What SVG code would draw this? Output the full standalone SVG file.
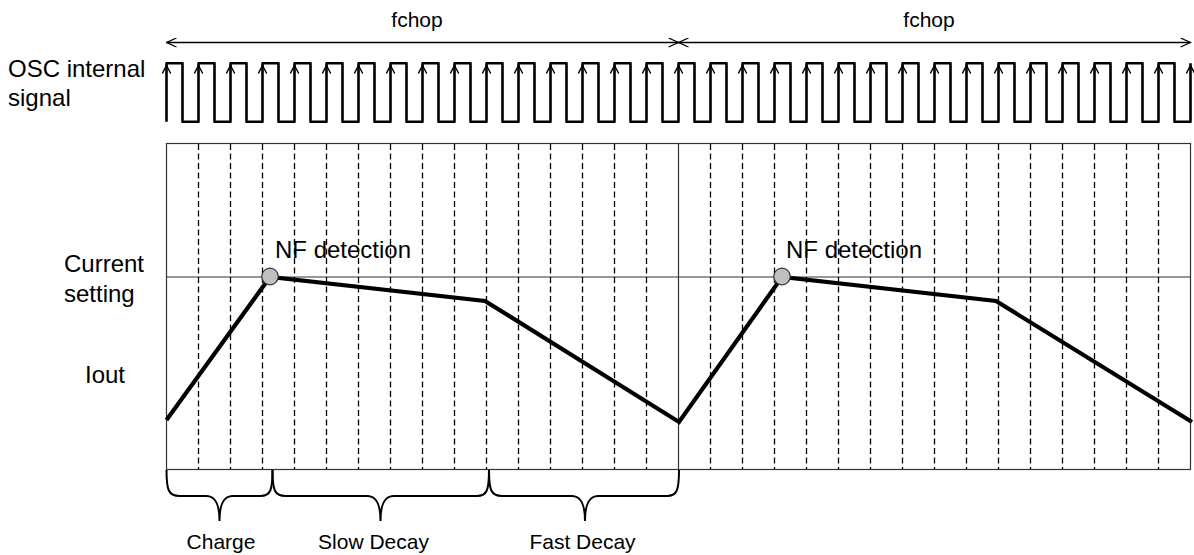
<svg xmlns="http://www.w3.org/2000/svg" width="1194" height="555" viewBox="0 0 1194 555">
<style>
.t{font-family:"Liberation Sans",Arial,sans-serif;fill:#000}
.lab{font-size:24px}
.sm{font-size:21px}
.grid{stroke:#333;stroke-width:1.2;fill:none}
.dash{stroke:#000;stroke-width:1.3;stroke-dasharray:6 3.5;fill:none}
.wave{stroke:#000;stroke-width:2.6;fill:none;stroke-linejoin:round}
.ah{stroke:#000;stroke-width:1.5;fill:none}
.iout{stroke:#000;stroke-width:4.2;fill:none;stroke-linejoin:miter}
.brace{stroke:#000;stroke-width:2;fill:none}
.dim{stroke:#000;stroke-width:1.3;fill:none}
</style>
<defs>
<marker id="oa" viewBox="0 0 12 10" refX="11" refY="5" markerWidth="12" markerHeight="10" markerUnits="userSpaceOnUse" orient="auto-start-reverse">
<path d="M1,0.5 L11,5 L1,9.5" fill="none" stroke="#000" stroke-width="1.3"/>
</marker>
<path id="chev" class="ah" d="M-4.2,73.5 L0,65.5 L4.2,73.5"/>
</defs>

<g id="labels">
<text class="t lab" x="8" y="77">OSC internal</text>
<text class="t lab" x="8" y="106">signal</text>
<text class="t lab" x="64" y="272">Current</text>
<text class="t lab" x="64" y="302">setting</text>
<text class="t lab" x="85" y="383">Iout</text>
</g>

<g id="fchop">
<line class="dim" x1="166.5" y1="42.5" x2="678.5" y2="42.5" marker-start="url(#oa)" marker-end="url(#oa)"/>
<line class="dim" x1="678.5" y1="42.5" x2="1190.5" y2="42.5" marker-start="url(#oa)" marker-end="url(#oa)"/>
<text class="t sm" x="417" y="27" text-anchor="middle">fchop</text>
<text class="t sm" x="929" y="27" text-anchor="middle">fchop</text>
</g>

<g id="osc-signal">
<path class="wave" d="M166.5,121.7 V63.3 H182.5 V121.7 H198.5 V63.3 H214.5 V121.7 H230.5 V63.3 H246.5 V121.7 H262.5 V63.3 H278.5 V121.7 H294.5 V63.3 H310.5 V121.7 H326.5 V63.3 H342.5 V121.7 H358.5 V63.3 H374.5 V121.7 H390.5 V63.3 H406.5 V121.7 H422.5 V63.3 H438.5 V121.7 H454.5 V63.3 H470.5 V121.7 H486.5 V63.3 H502.5 V121.7 H518.5 V63.3 H534.5 V121.7 H550.5 V63.3 H566.5 V121.7 H582.5 V63.3 H598.5 V121.7 H614.5 V63.3 H630.5 V121.7 H646.5 V63.3 H662.5 V121.7 H678.5 V63.3 H694.5 V121.7 H710.5 V63.3 H726.5 V121.7 H742.5 V63.3 H758.5 V121.7 H774.5 V63.3 H790.5 V121.7 H806.5 V63.3 H822.5 V121.7 H838.5 V63.3 H854.5 V121.7 H870.5 V63.3 H886.5 V121.7 H902.5 V63.3 H918.5 V121.7 H934.5 V63.3 H950.5 V121.7 H966.5 V63.3 H982.5 V121.7 H998.5 V63.3 H1014.5 V121.7 H1030.5 V63.3 H1046.5 V121.7 H1062.5 V63.3 H1078.5 V121.7 H1094.5 V63.3 H1110.5 V121.7 H1126.5 V63.3 H1142.5 V121.7 H1158.5 V63.3 H1174.5 V121.7 H1190.5 V63.3"/>
<use href="#chev" x="166.5"/><use href="#chev" x="198.5"/><use href="#chev" x="230.5"/><use href="#chev" x="262.5"/>
<use href="#chev" x="294.5"/><use href="#chev" x="326.5"/><use href="#chev" x="358.5"/><use href="#chev" x="390.5"/>
<use href="#chev" x="422.5"/><use href="#chev" x="454.5"/><use href="#chev" x="486.5"/><use href="#chev" x="518.5"/>
<use href="#chev" x="550.5"/><use href="#chev" x="582.5"/><use href="#chev" x="614.5"/><use href="#chev" x="646.5"/>
<use href="#chev" x="678.5"/><use href="#chev" x="710.5"/><use href="#chev" x="742.5"/><use href="#chev" x="774.5"/>
<use href="#chev" x="806.5"/><use href="#chev" x="838.5"/><use href="#chev" x="870.5"/><use href="#chev" x="902.5"/>
<use href="#chev" x="934.5"/><use href="#chev" x="966.5"/><use href="#chev" x="998.5"/><use href="#chev" x="1030.5"/>
<use href="#chev" x="1062.5"/><use href="#chev" x="1094.5"/><use href="#chev" x="1126.5"/><use href="#chev" x="1158.5"/>
<use href="#chev" x="1190.5"/>
</g>

<g id="chart-grid">
<rect class="grid" x="166.5" y="143.5" width="1024" height="326"/>
<line class="grid" x1="678.5" y1="143.5" x2="678.5" y2="469.5"/>
<line class="grid" x1="166.5" y1="277" x2="1190.5" y2="277"/>
<path class="dash" d="M198.5,144 V469 M230.5,144 V469 M262.5,144 V469 M294.5,144 V469 M326.5,144 V469 M358.5,144 V469 M390.5,144 V469 M422.5,144 V469 M454.5,144 V469 M486.5,144 V469 M518.5,144 V469 M550.5,144 V469 M582.5,144 V469 M614.5,144 V469 M646.5,144 V469 M710.5,144 V469 M742.5,144 V469 M774.5,144 V469 M806.5,144 V469 M838.5,144 V469 M870.5,144 V469 M902.5,144 V469 M934.5,144 V469 M966.5,144 V469 M998.5,144 V469 M1030.5,144 V469 M1062.5,144 V469 M1094.5,144 V469 M1126.5,144 V469 M1158.5,144 V469"/>
</g>

<g id="iout-curve">
<path class="iout" d="M166.5,420 L270,277 L485,301 L679,422 L782,277 L996,301 L1192,422"/>
</g>

<g id="nf-detection-1">
<circle cx="270" cy="276.5" r="8.3" fill="#c0c0c0" stroke="#333" stroke-width="1.2"/>
<text class="t lab" x="275" y="258">NF detection</text>
</g>
<g id="nf-detection-2">
<circle cx="782" cy="276.5" r="8.3" fill="#c0c0c0" stroke="#333" stroke-width="1.2"/>
<text class="t lab" x="786" y="258">NF detection</text>
</g>

<g id="charge">
<path class="brace" d="M166.5,470 C166.5,490 168.5,496 179.5,496 H206 C215,496 219.5,503 219.5,521 C219.5,503 224,496 233,496 H260.5 C270.5,496 272.5,490 272.5,470"/>
<text class="t sm" x="221" y="549" text-anchor="middle">Charge</text>
</g>
<g id="slow-decay">
<path class="brace" d="M272.5,470 C272.5,490 274.5,496 285.5,496 H367 C376,496 380.5,503 380.5,521 C380.5,503 385,496 394,496 H477 C487,496 489,490 489,470"/>
<text class="t sm" x="373.5" y="549" text-anchor="middle">Slow Decay</text>
</g>
<g id="fast-decay">
<path class="brace" d="M489,470 C489,490 491,496 502,496 H571.5 C580.5,496 585,503 585,521 C585,503 589.5,496 598.5,496 H667 C677,496 679,490 679,470"/>
<text class="t sm" x="582.5" y="549" text-anchor="middle">Fast Decay</text>
</g>
</svg>
